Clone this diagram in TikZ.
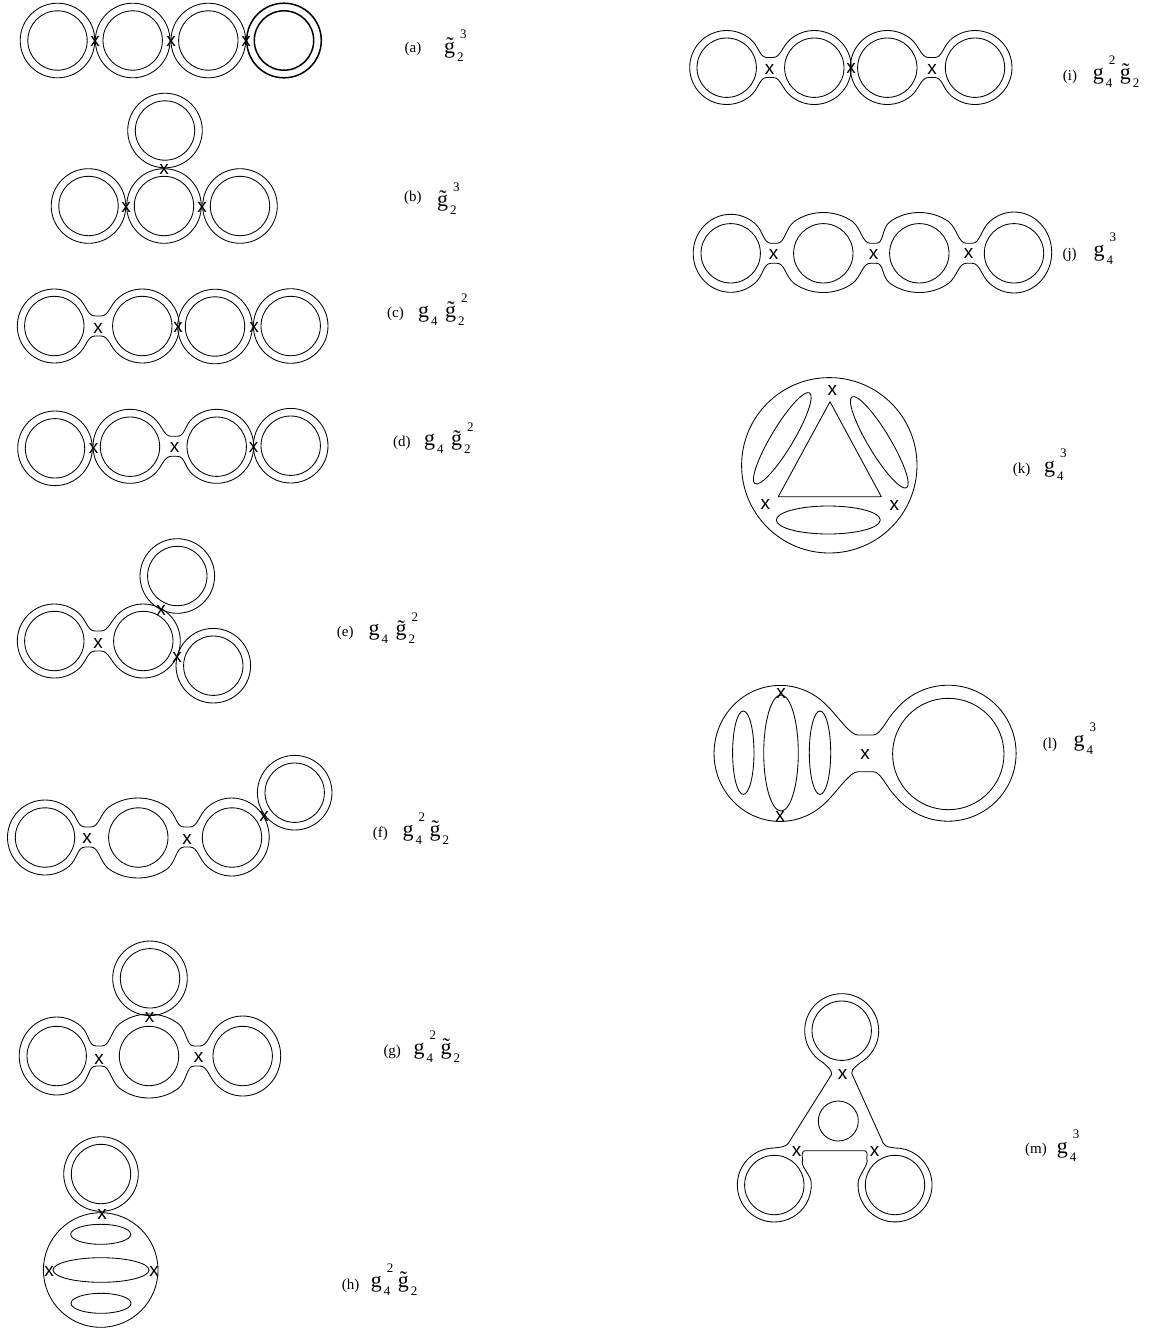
\documentclass[tikz,border=0pt]{standalone}
\usepackage{fontspec}
\setmainfont{Liberation Serif}
\setsansfont{Liberation Sans}
\usepackage{tikz}

% one factor of a coupling: letter, lower index, upper index
\newcommand{\gterm}[3]{{\fontsize{22}{22}\selectfont #1}\kern2pt%
	\rlap{\raisebox{-8pt}{\fontsize{13}{13}\selectfont #2}}\kern3pt%
	\makebox[11pt][l]{\raisebox{14.6pt}{\fontsize{13}{13}\selectfont #3}}}
\newcommand{\gf}{g}
\newcommand{\gt}{\~g}

% from the end of a neck round one lobe to the start of the next neck
\newcommand{\lobe}[8]{.. controls +({-12*cos(#5)},0) and +({#5-90}:11) .. ([shift={(#5:#3 and #4)}]#1,#2)
	arc[start angle=#5,end angle=#6,x radius=#3,y radius=#4]
	.. controls +({#6+90}:11) and +({-12*cos(#6)},0) .. (#7,#8)}
\newcommand{\dumbbell}[4]{\draw[wire] (#4-3,#3+10) \lobe{#1}{#3}{37}{37}{50}{310}{#4-3}{#3-10}
	-- (#4+3,#3-10) \lobe{#2}{#3}{37}{37}{230}{490}{#4+3}{#3+10} -- cycle;}
\newcommand{\hole}[2]{\draw[wire] (#1,#2) circle[radius=29.7];}
\newcommand{\ring}[2]{\hole{#1}{#2}\draw[wire] (#1,#2) circle[radius=37.3];}

\begin{document}
\begin{tikzpicture}[x=1pt,y=1pt,yscale=-1]
	\tikzset{wire/.style = {line width=.85pt,line join=round}}
	\tikzset{cross/.style = {inner sep=0pt,font=\sffamily\fontsize{19}{19}\selectfont}}
	\tikzset{tag/.style = {inner sep=0pt,anchor=base west,font=\fontsize{15}{15}\selectfont}}
	\tikzset{coupling/.style = {inner sep=0pt,anchor=base west,font=\fontsize{13}{13}\selectfont}}
	\useasboundingbox (0,0) rectangle (1151,1331);

	% (a)
	\ring{57.5}{40.5} \ring{132.7}{40.5} \ring{208.3}{40.5}
	\draw[wire,line width=1.5pt] (284,40.5) circle[radius=37.3];
	\draw[wire,line width=1.5pt] (284,40.5) circle[radius=29.7];
	\node[cross] (xa1) at (95,41) {x};
	\node[cross] (xa2) at (171,41) {x};
	\node[cross] (xa3) at (246,41) {x};
	\node[tag] (ta) at (404.5,52) {(a)};
	\node[coupling] (ga) at (444,53) {\gterm{\gt}{2}{3}};

	% (b)
	\ring{165}{130.5} \ring{88.5}{206} \ring{164}{206} \ring{240}{206}
	\node[cross] (xb1) at (164,169) {x};
	\node[cross] (xb2) at (126,207) {x};
	\node[cross] (xb3) at (202,207) {x};
	\node[tag] (tb) at (404,201) {(b)};
	\node[coupling] (gb) at (437,206) {\gterm{\gt}{2}{3}};

	% (c)
	\dumbbell{54.3}{142.3}{326}{98}
	\hole{54.3}{326} \hole{142.3}{326}
	\ring{215}{326.5} \ring{290.7}{326}
	\node[cross] (xc1) at (98,328) {x};
	\node[cross] (xc2) at (178,327) {x};
	\node[cross] (xc3) at (254,327) {x};
	\node[tag] (tc) at (387,317) {(c)};
	\node[coupling] (gc) at (418,317.3) {\gterm{\gf}{4}{}\gterm{\gt}{2}{2}};

	% (d)
	\ring{55}{448.3}
	\dumbbell{130}{216.7}{446.3}{174.3}
	\hole{130}{446.7} \hole{216.7}{446.7}
	\ring{290.7}{445.7}
	\node[cross] (xd1) at (93.5,448) {x};
	\node[cross] (xd2) at (174.5,447) {x};
	\node[cross] (xd3) at (253.5,447.5) {x};
	\node[tag] (td) at (393,446) {(d)};
	\node[coupling] (gd) at (424,445.7) {\gterm{\gf}{4}{}\gterm{\gt}{2}{2}};

	% (e)
	\ring{177.3}{576}
	\dumbbell{54.3}{143.3}{641}{98}
	\hole{54.3}{641} \hole{143.3}{641}
	\ring{213.3}{665.7}
	\node[cross] (xe1) at (98,643) {x};
	\node[cross] (xe2) at (161,610) {x};
	\node[cross] (xe3) at (177,657) {x};
	\node[tag] (te) at (336.7,636) {(e)};
	\node[coupling] (ge) at (368.3,635.7) {\gterm{\gf}{4}{}\gterm{\gt}{2}{2}};

	% (f)
	\draw[wire] (85,847) \lobe{45}{837.5}{37.5}{37.5}{50}{310}{85}{827}
		-- (91,827) \lobe{138}{838}{46}{40}{230}{310}{184}{827}
		-- (190,827) \lobe{231.7}{837}{37.5}{39}{230}{490}{190}{847}
		-- (184,847) \lobe{138}{838}{46}{40}{50}{130}{91}{847} -- cycle;
	\hole{45}{837.5} \hole{138.3}{837.5} \hole{232}{837.5}
	\ring{294.7}{792.7}
	\node[cross] (xf1) at (87,838.7) {x};
	\node[cross] (xf2) at (187,839.3) {x};
	\node[cross] (xf3) at (264,816) {x};
	\node[tag] (tf) at (372.7,837) {(f)};
	\node[coupling] (gf) at (402.3,836) {\gterm{\gf}{4}{2}\gterm{\gt}{2}{}};

	% (g)
	\draw[wire] (96,1066) \lobe{56.7}{1056}{37.5}{39}{50}{310}{96}{1046}
		-- (102,1046) \lobe{149}{1056}{46}{42}{230}{310}{194}{1046}
		-- (200,1046) \lobe{242.7}{1056}{38}{40}{230}{490}{200}{1066}
		-- (194,1066) \lobe{149}{1056}{46}{42}{50}{130}{102}{1066} -- cycle;
	\hole{56.7}{1056} \hole{149}{1056} \hole{242.7}{1056}
	\ring{150}{978.3}
	\node[cross] (xg1) at (99,1059) {x};
	\node[cross] (xg2) at (149.5,1017) {x};
	\node[cross] (xg3) at (198.5,1057) {x};
	\node[tag] (tg) at (383.3,1055) {(g)};
	\node[coupling] (gg) at (413.3,1054) {\gterm{\gf}{4}{2}\gterm{\gt}{2}{}};

	% (h)
	\ring{101}{1174}
	\draw[wire] (100.7,1270) circle[radius=57.3];
	\draw[wire] (100.7,1234.3) ellipse[x radius=30,y radius=10];
	\draw[wire] (101,1270) ellipse[x radius=48,y radius=12.3];
	\draw[wire] (101,1303.3) ellipse[x radius=30,y radius=10];
	\node[cross] (xh1) at (102,1214) {x};
	\node[cross] (xh2) at (49,1271) {x};
	\node[cross] (xh3) at (154,1271) {x};
	\node[tag] (th) at (341.7,1289) {(h)};
	\node[coupling] (gh) at (370.7,1287) {\gterm{\gf}{4}{2}\gterm{\gt}{2}{}};

	% (i)
	\dumbbell{726.7}{814.3}{67.5}{770}
	\dumbbell{887.3}{975}{67.5}{931.7}
	\hole{726.7}{67.7} \hole{814.3}{67.7} \hole{887.3}{67.7} \hole{975}{67.7}
	\node[cross] (xi1) at (769.5,69) {x};
	\node[cross] (xi2) at (851,68.5) {x};
	\node[cross] (xi3) at (932,69) {x};
	\node[tag] (ti) at (1062.7,80) {(i)};
	\node[coupling] (gi) at (1092.7,79) {\gterm{\gf}{4}{2}\gterm{\gt}{2}{}};

	% (j)
	\draw[wire] (771,263.3) \lobe{730.7}{253.3}{37.5}{39}{50}{310}{771}{243.3}
		-- (777,243.3) \lobe{823.3}{252.5}{46}{40}{230}{310}{870.3}{243.3}
		-- (876.3,243.3) \lobe{919.3}{252.5}{46}{40}{230}{310}{966.3}{243.3}
		-- (972.3,243.3) \lobe{1014}{252.5}{37.7}{40.5}{230}{490}{972.3}{263.3}
		-- (966.3,263.3) \lobe{919.3}{252.5}{46}{40}{50}{130}{876.3}{263.3}
		-- (870.3,263.3) \lobe{823.3}{252.5}{46}{40}{50}{130}{777}{263.3} -- cycle;
	\hole{730.7}{253.3} \hole{823.3}{253.3} \hole{919.3}{253.3} \hole{1014}{253.3}
	\node[cross] (xj1) at (773.5,254.7) {x};
	\node[cross] (xj2) at (873.5,254) {x};
	\node[cross] (xj3) at (968.5,253.5) {x};
	\node[tag] (tj) at (1062.3,258) {(j)};
	\node[coupling] (gj) at (1093.3,256) {\gterm{\gf}{4}{3}};

	% (k)
	\draw[wire] (829.3,465.3) circle[radius=87.7];
	\draw[wire] (830,401.7) -- (778.3,496.7) -- (881.3,496.7) -- cycle;
	\draw[wire,rotate around={-59:(782.3,438.3)}] (782.3,438.3) ellipse[x radius=53,y radius=11];
	\draw[wire,rotate around={59:(879.3,442.3)}] (879.3,442.3) ellipse[x radius=53,y radius=11];
	\draw[wire] (828.3,520) ellipse[x radius=52,y radius=14];
	\node[cross] (xk1) at (832.3,390.7) {x};
	\node[cross] (xk2) at (765.3,504) {x};
	\node[cross] (xk3) at (894.3,505.7) {x};
	\node[tag] (tk) at (1012.7,473.5) {(k)};
	\node[coupling] (gk) at (1044,472) {\gterm{\gf}{4}{3}};

	% (l)
	\draw[wire] (858,771.7) .. controls +(-8,0) and +(12,-12) .. (826.7,801.5)
		arc[start angle=45,end angle=315,x radius=66,y radius=68]
		.. controls +(12,12) and +(-8,0) .. (858,735) -- (873,735)
		.. controls +(8,0) and +(-10,10) .. (896,709.5)
		arc[start angle=220,end angle=500,radius=68]
		.. controls +(-10,-10) and +(8,0) .. (873,771.7) -- cycle;
	\draw[wire] (948.3,754) circle[radius=55.7];
	\draw[wire] (743.3,752.7) ellipse[x radius=10.7,y radius=41.7];
	\draw[wire] (781,753) ellipse[x radius=17.3,y radius=58];
	\draw[wire] (820,752.7) ellipse[x radius=10.7,y radius=41.7];
	\node[cross] (xl1) at (781,693) {x};
	\node[cross] (xl2) at (865,754.3) {x};
	\node[cross] (xl3) at (780,816.7) {x};
	\node[tag] (tl) at (1042.7,748) {(l)};
	\node[coupling] (gl) at (1073.3,746) {\gterm{\gf}{4}{3}};

	% (m)
	\draw[wire] (860.2,1062.7) arc[start angle=60,end angle=-240,radius=37]
		.. controls +(4,4) and +(0,-5) .. (831.7,1074.3)
		-- (788.3,1143.3) .. controls +(-3,4) and +(6,-1) .. (774.3,1148)
		arc[start angle=270,end angle=-3,radius=37]
		.. controls +(0,-8) and +(-3,6) .. (802.7,1160)
		.. controls +(-1,-5) and +(-3,0) .. (805,1150.7) -- (864,1150.7)
		.. controls +(3,0) and +(1,-5) .. (866.7,1158.3)
		.. controls +(3,6) and +(0,-8) .. (858.1,1183)
		arc[start angle=183,end angle=-90,radius=37]
		.. controls +(-6,-1) and +(3,4) .. (883.3,1143.3)
		-- (851.7,1073.3) .. controls +(0,-5) and +(-4,4) .. (860.2,1062.7) -- cycle;
	\hole{841.7}{1030.7} \hole{774.3}{1185} \hole{895}{1185}
	\draw[wire] (838.3,1121) circle[radius=20];
	\node[cross] (xm1) at (842.5,1074.5) {x};
	\node[cross] (xm2) at (796.5,1151.5) {x};
	\node[cross] (xm3) at (874.5,1151.5) {x};
	\node[tag] (tm) at (1025,1153.5) {(m)};
	\node[coupling] (gm) at (1056.7,1153) {\gterm{\gf}{4}{3}};
\end{tikzpicture}
\end{document}
